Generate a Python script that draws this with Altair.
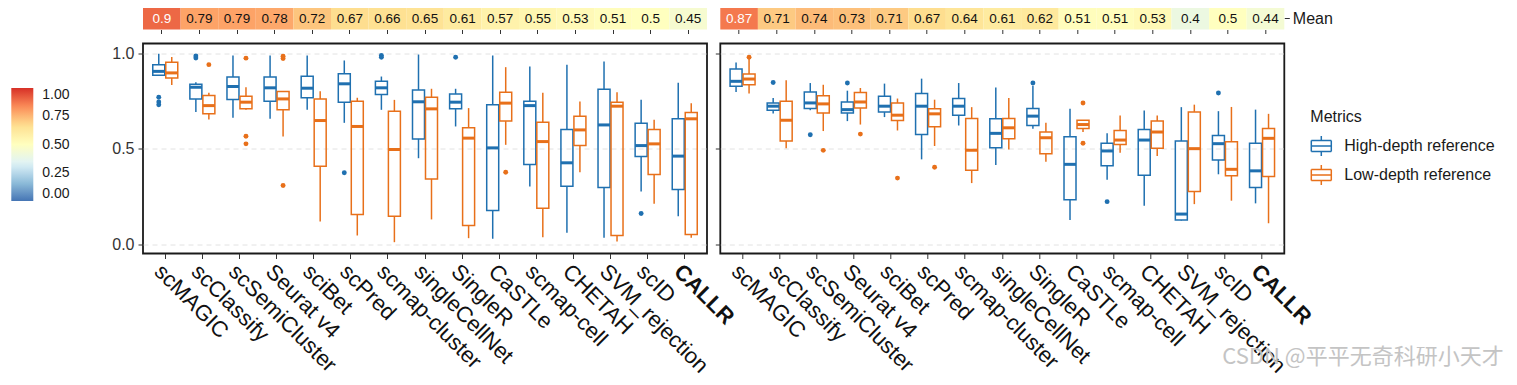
import altair as alt
import pandas as pd

methods = ["scMAGIC", "scClassify", "scSemiCluster", "Seurat v4", "sciBet", "scPred",
           "scmap-cluster", "singleCellNet", "SingleR", "CaSTLe", "scmap-cell", "CHETAH",
           "SVM_rejection", "scID", "CALLR"]
GROUPS = ["High-depth reference", "Low-depth reference"]

mean_left = [0.9, 0.79, 0.79, 0.78, 0.72, 0.67, 0.66, 0.65, 0.61, 0.57, 0.55, 0.53, 0.51, 0.5, 0.45]
mean_right = [0.87, 0.71, 0.74, 0.73, 0.71, 0.67, 0.64, 0.61, 0.62, 0.51, 0.51, 0.53, 0.4, 0.5, 0.44]

# Left panel, high-depth reference
LH_lo = [0.885, 0.692, 0.662, 0.657, 0.704, 0.636, 0.704, 0.451, 0.617, 0.030, 0.303, 0.061, 0.035, 0.277, 0.148]
LH_q1 = [0.885, 0.761, 0.758, 0.749, 0.767, 0.744, 0.784, 0.552, 0.709, 0.178, 0.418, 0.305, 0.298, 0.460, 0.287]
LH_med = [0.905, 0.822, 0.826, 0.819, 0.817, 0.840, 0.819, 0.746, 0.744, 0.505, 0.726, 0.427, 0.625, 0.517, 0.462]
LH_q3 = [0.940, 0.838, 0.875, 0.875, 0.880, 0.892, 0.854, 0.808, 0.787, 0.730, 0.749, 0.601, 0.812, 0.634, 0.657]
LH_hi = [0.997, 0.848, 0.988, 0.988, 0.988, 0.962, 0.878, 0.993, 0.814, 0.988, 0.930, 0.939, 0.956, 0.756, 0.845]
LH_out = [("scMAGIC", 0.77), ("scMAGIC", 0.745), ("scMAGIC", 0.73), ("scClassify", 0.985),
          ("scClassify", 0.975), ("scPred", 0.375), ("scmap-cluster", 0.988), ("scmap-cluster", 0.979),
          ("SingleR", 0.979), ("scID", 0.162)]

# Left panel, low-depth reference
LL_lo = [0.834, 0.653, 0.705, 0.564, 0.120, 0.047, 0.012, 0.131, 0.033, 0.521, 0.038, 0.378, 0.016, 0.213, 0.035]
LL_q1 = [0.871, 0.683, 0.709, 0.704, 0.409, 0.157, 0.148, 0.343, 0.099, 0.645, 0.190, 0.517, 0.047, 0.366, 0.052]
LL_med = [0.897, 0.726, 0.744, 0.761, 0.648, 0.617, 0.497, 0.709, 0.556, 0.739, 0.538, 0.599, 0.723, 0.526, 0.657]
LL_q3 = [0.953, 0.779, 0.775, 0.800, 0.760, 0.749, 0.697, 0.770, 0.610, 0.796, 0.639, 0.671, 0.744, 0.601, 0.690]
LL_hi = [0.980, 0.793, 0.822, 0.800, 0.801, 0.767, 0.756, 0.814, 0.713, 0.927, 0.793, 0.747, 0.796, 0.652, 0.739]
LL_out = [("scClassify", 0.94), ("scSemiCluster", 0.974), ("scSemiCluster", 0.566), ("scSemiCluster", 0.526),
          ("Seurat v4", 0.984), ("Seurat v4", 0.972), ("Seurat v4", 0.308), ("CaSTLe", 0.378)]

# Right panel, high-depth reference
RH_lo = [0.797, 0.685, 0.702, 0.645, 0.666, 0.445, 0.622, 0.416, 0.605, 0.128, 0.338, 0.203, 0.125, 0.367, 0.215]
RH_q1 = [0.827, 0.702, 0.711, 0.688, 0.692, 0.575, 0.676, 0.506, 0.622, 0.234, 0.411, 0.362, 0.128, 0.442, 0.298]
RH_med = [0.853, 0.723, 0.740, 0.705, 0.723, 0.723, 0.723, 0.581, 0.671, 0.419, 0.489, 0.546, 0.159, 0.527, 0.385]
RH_q3 = [0.918, 0.740, 0.797, 0.745, 0.775, 0.789, 0.763, 0.657, 0.711, 0.563, 0.529, 0.601, 0.541, 0.570, 0.529]
RH_hi = [0.951, 0.766, 0.844, 0.804, 0.841, 0.867, 0.844, 0.821, 0.830, 0.709, 0.581, 0.700, 0.718, 0.697, 0.705]
RH_out = [("scClassify", 0.847), ("scSemiCluster", 0.574), ("Seurat v4", 0.844), ("SingleR", 0.844),
          ("scmap-cell", 0.224), ("scID", 0.792)]

# Right panel, low-depth reference
RL_lo = [0.789, 0.503, 0.593, 0.627, 0.596, 0.515, 0.321, 0.497, 0.433, 0.588, 0.480, 0.463, 0.211, 0.229, 0.111]
RL_q1 = [0.835, 0.541, 0.688, 0.714, 0.648, 0.615, 0.388, 0.553, 0.475, 0.607, 0.523, 0.503, 0.277, 0.359, 0.355]
RL_med = [0.865, 0.650, 0.735, 0.745, 0.676, 0.683, 0.492, 0.610, 0.558, 0.627, 0.546, 0.588, 0.501, 0.393, 0.555]
RL_q3 = [0.891, 0.749, 0.778, 0.795, 0.740, 0.709, 0.659, 0.659, 0.588, 0.650, 0.596, 0.645, 0.693, 0.537, 0.607]
RL_hi = [0.975, 0.858, 0.835, 0.818, 0.763, 0.757, 0.718, 0.766, 0.636, 0.650, 0.674, 0.674, 0.731, 0.719, 0.683]
RL_out = [("scMAGIC", 0.979), ("scSemiCluster", 0.492), ("Seurat v4", 0.577), ("sciBet", 0.347),
          ("scPred", 0.404), ("CaSTLe", 0.74), ("CaSTLe", 0.529)]

WATERMARK = "CSDN @平平无奇科研小天才"

BLUE = "#1f70b0"
ORANGE = "#e8701a"
RDYLBU = ["#4575b4", "#91bfdb", "#e0f3f8", "#ffffbf", "#fee090", "#fc8d59", "#d73027"]
# box-plot glyph built only from single segments, so it has no fillable area
BOX_SYMBOL = ("M-1,-0.55L1,-0.55M1,-0.55L1,0.55M1,0.55L-1,0.55M-1,0.55L-1,-0.55"
              "M-1,0L1,0M0,-0.55L0,-1M0,0.55L0,1")

# ---- build tables ----
stats = {
    ("L", GROUPS[0]): (LH_lo, LH_q1, LH_med, LH_q3, LH_hi, LH_out),
    ("L", GROUPS[1]): (LL_lo, LL_q1, LL_med, LL_q3, LL_hi, LL_out),
    ("R", GROUPS[0]): (RH_lo, RH_q1, RH_med, RH_q3, RH_hi, RH_out),
    ("R", GROUPS[1]): (RL_lo, RL_q1, RL_med, RL_q3, RL_hi, RL_out),
}
box_rows, out_rows = [], []
for (panel, grp), (lo, q1, med, q3, hi, outs) in stats.items():
    for i, m in enumerate(methods):
        box_rows.append(dict(panel=panel, group=grp, method=m, lo=lo[i], q1=q1[i],
                             med=med[i], q3=q3[i], hi=hi[i]))
    for m, v in outs:
        out_rows.append(dict(panel=panel, group=grp, method=m, value=v))
df_box = pd.DataFrame(box_rows)
df_out = pd.DataFrame(out_rows)

W = 564
HEAT_H = 21.5
BOX_H = 210
LEFT_PLOT_X = 142.7

fill_legend = alt.Legend(orient="none", legendX=11 - LEFT_PLOT_X, legendY=80, direction="vertical",
                         gradientLength=113, gradientThickness=22, values=[0, 0.25, 0.5, 0.75, 1],
                         format=".2f", labelFontSize=14, labelOffset=9, labelColor="#1a1a1a",
                         labelBaseline="middle", gradientStrokeWidth=0, labelOverlap=False)

stroke_legend = alt.Legend(orient="none", legendX=1310 - LEFT_PLOT_X, legendY=101,
                           symbolType=BOX_SYMBOL, symbolSize=400, symbolStrokeWidth=1.5,
                           symbolFillColor="transparent", labelFontSize=16, titleFontSize=16,
                           titleFontWeight="normal", titleColor="#1a1a1a", labelColor="#1a1a1a",
                           labelOffset=12, rowPadding=3, titlePadding=10)

group_scale = alt.Scale(domain=GROUPS, range=[BLUE, ORANGE])


def heat_panel(means, right):
    df = pd.DataFrame({"method": methods, "mean": means, "row": ["Mean"] * len(methods)})
    x = alt.X("method:N", sort=methods, title=None,
              scale=alt.Scale(type="band", domain=methods, paddingInner=0, paddingOuter=0),
              axis=alt.Axis(labels=False, ticks=True, tickSize=4, tickColor="#333", domain=False))
    if right:
        yax = alt.Axis(orient="right", labelFontSize=16, labelColor="#1a1a1a", tickSize=5,
                       tickColor="#333", domain=False, labelPadding=3)
    else:
        yax = alt.Axis(labels=False, ticks=False, domain=False)
    y = alt.Y("row:N", title=None, axis=yax)
    rect = alt.Chart(df).mark_rect().encode(
        x=x, y=y,
        fill=alt.Fill("mean:Q", title=None,
                      scale=alt.Scale(domain=[0, 1 / 6, 2 / 6, 3 / 6, 4 / 6, 5 / 6, 1], range=RDYLBU,
                                      interpolate="rgb"),
                      legend=fill_legend))
    text = alt.Chart(df).mark_text(fontSize=13.5).encode(
        x=x, y=y,
        text=alt.Text("mean:Q", format=".2~f"),
        color=alt.condition(alt.datum.mean > 0.8, alt.value("white"), alt.value("#111111")))
    return alt.layer(rect, text).properties(width=W, height=HEAT_H)


def box_panel(panel, left):
    d = df_box[df_box.panel == panel]
    o = df_out[df_out.panel == panel]
    xaxis = alt.Axis(labelAngle=45, labelAlign="left", labelBaseline="top", labelFontSize=22,
                     labelColor="#111111", labelPadding=2, labelOverlap=False, labelLimit=300,
                     tickSize=5, tickColor="#333", domain=False,
                     labelFontWeight={"condition": {"test": "datum.value === 'CALLR'", "value": "bold"},
                                      "value": "normal"})
    X = alt.X("method:N", sort=methods, title=None,
              scale=alt.Scale(type="band", domain=methods, paddingInner=0, paddingOuter=0.1),
              axis=xaxis)
    yax = alt.Axis(values=[0, 0.5, 1], format=".1f", grid=True, gridDash=[5, 4], gridColor="#e2e2e2",
                   gridWidth=1, domain=False, labelFontSize=16, labelColor="#333333",
                   labelPadding=4, tickSize=5, tickColor="#333", labels=left, ticks=True)
    ys = alt.Scale(domain=[-0.0471, 1.0507], nice=False, zero=False)
    S = alt.Stroke("group:N", title="Metrics", scale=group_scale, legend=stroke_legend)
    C = alt.Color("group:N", scale=group_scale, legend=None)
    layers = []
    for g, off in zip(GROUPS, [-6.5, 6.5]):
        dg = d[d.group == g]
        og = o[o.group == g]
        # lower and upper whiskers
        layers.append(alt.Chart(dg).mark_rule(xOffset=off, strokeWidth=1.5).encode(
            x=X, y=alt.Y("lo:Q", scale=ys, axis=yax, title=None), y2="q1:Q", stroke=S))
        layers.append(alt.Chart(dg).mark_rule(xOffset=off, strokeWidth=1.5).encode(
            x=X, y=alt.Y("q3:Q", scale=ys, axis=yax, title=None), y2="hi:Q", stroke=S))
        # box
        layers.append(alt.Chart(dg).mark_bar(xOffset=off, width=12, filled=False, strokeWidth=1.5).encode(
            x=X, y=alt.Y("q1:Q", scale=ys, axis=yax, title=None), y2="q3:Q", color=C))
        # median
        layers.append(alt.Chart(dg).mark_tick(xOffset=off, size=12, thickness=3, opacity=1).encode(
            x=X, y=alt.Y("med:Q", scale=ys, axis=yax, title=None), color=C))
        # outliers
        layers.append(alt.Chart(og).mark_circle(xOffset=off, size=24, opacity=1).encode(
            x=X, y=alt.Y("value:Q", scale=ys, axis=yax, title=None), color=C))
    if not left:
        wm = alt.Chart(pd.DataFrame({"t": [WATERMARK]})).mark_text(
            align="left", baseline="middle", fontSize=22, font="Noto Sans CJK SC", color="#c4c4c4"
        ).encode(text="t:N", x=alt.value(502), y=alt.value(313))
        layers.append(wm)
    return alt.layer(*layers).properties(
        width=W, height=BOX_H, view=alt.ViewBackground(stroke="#1a1a1a", strokeWidth=1.8))


chart = alt.concat(
    heat_panel(mean_left, False), heat_panel(mean_right, True),
    box_panel("L", True), box_panel("R", False),
    columns=2, spacing={"row": 13.5, "column": 13.3}, bounds="flush", align="each",
).properties(
    padding={"left": 3, "top": 0, "right": 2, "bottom": 0}
).configure(font="Liberation Sans").configure_view(stroke=None)

chart.save("out.html", embed_options={"renderer": "svg", "actions": False})
